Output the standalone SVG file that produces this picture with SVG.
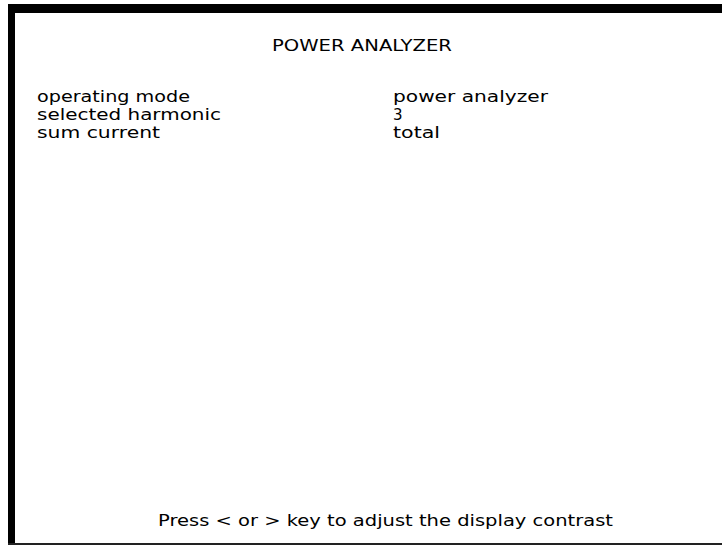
<svg xmlns="http://www.w3.org/2000/svg" width="722" height="545" viewBox="0 0 722 545">
<style>
text{font-family:"DejaVu Sans","Liberation Sans",sans-serif;fill:#000;font-size:15px}
</style>
<rect width="722" height="545" fill="#fff"/>
<g id="frame">
<rect x="8" y="4" width="714" height="9" fill="#000"/>
<rect x="8" y="4" width="7" height="541" fill="#000"/>
<rect x="8" y="543" width="714" height="2" fill="#222"/>
</g>
<g id="title"><text x="272" y="51" textLength="180" lengthAdjust="spacingAndGlyphs" font-size="17">POWER ANALYZER</text></g>
<g id="labels">
<text x="37" y="102" textLength="153" lengthAdjust="spacingAndGlyphs">operating mode</text>
<text x="37" y="120" textLength="184" lengthAdjust="spacingAndGlyphs">selected harmonic</text>
<text x="37" y="138" textLength="123" lengthAdjust="spacingAndGlyphs">sum current</text>
</g>
<g id="values">
<text x="393" y="102" textLength="155" lengthAdjust="spacingAndGlyphs">power analyzer</text>
<text x="393" y="120">3</text>
<text x="393" y="138" textLength="47" lengthAdjust="spacingAndGlyphs">total</text>
</g>
<g id="footer"><text x="158" y="526" textLength="455" lengthAdjust="spacingAndGlyphs" font-size="16">Press &lt; or &gt; key to adjust the display contrast</text></g>
</svg>
